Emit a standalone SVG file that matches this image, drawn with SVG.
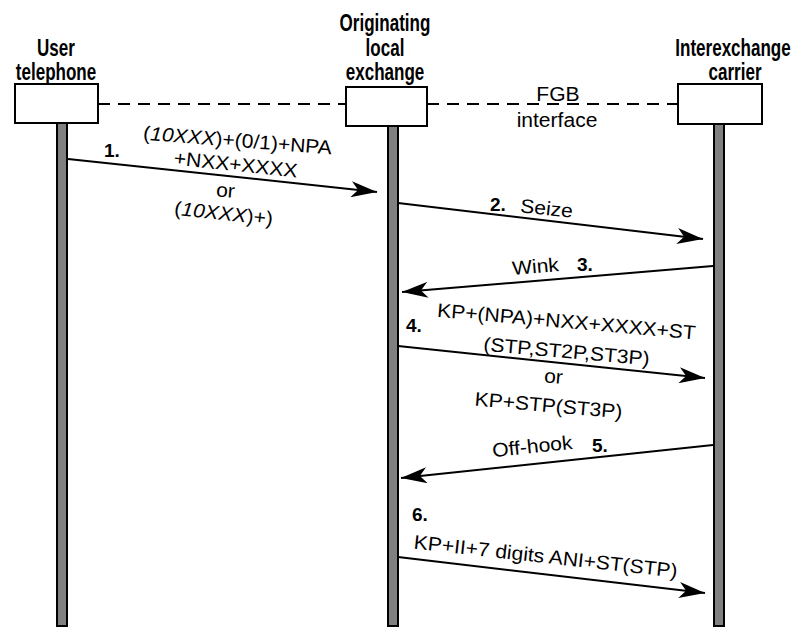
<svg xmlns="http://www.w3.org/2000/svg" width="793" height="628" viewBox="0 0 793 628">
<style>
.hdr{font-family:"Liberation Sans",Arial,sans-serif;font-weight:bold;font-size:24px;fill:#000;text-anchor:middle}
.lbl{font-family:"Liberation Sans",Arial,sans-serif;font-size:19.5px;fill:#000;text-anchor:middle}
.num{font-family:"Liberation Sans",Arial,sans-serif;font-weight:bold;font-size:19px;fill:#000}
.box{fill:#fff;stroke:#000;stroke-width:2}
.life{fill:#808080;stroke:#000;stroke-width:2}
.msg{stroke:#000;stroke-width:2;fill:none;marker-end:url(#ah)}
.dash{stroke:#000;stroke-width:2;stroke-dasharray:12 8;fill:none}
</style>
<defs>
<marker id="ah" viewBox="0 0 26 16" refX="26" refY="8" markerWidth="26" markerHeight="16" markerUnits="userSpaceOnUse" orient="auto">
<path d="M0,0 L26,8 L0,16 L7,8 Z" fill="#000"/>
</marker>
</defs>
<g id="user">
<text class="hdr" transform="translate(56,56) scale(0.71,1)">User</text>
<text class="hdr" transform="translate(56,80) scale(0.71,1)">telephone</text>
<rect class="life" x="57" y="123" width="10" height="503"/>
<rect class="box" x="15" y="84" width="83" height="39"/>
</g>
<g id="local">
<text class="hdr" transform="translate(385,31) scale(0.71,1)">Originating</text>
<text class="hdr" transform="translate(385,56) scale(0.71,1)">local</text>
<text class="hdr" transform="translate(385,80) scale(0.71,1)">exchange</text>
<rect class="life" x="388" y="126" width="10" height="500"/>
<rect class="box" x="346" y="87" width="81" height="39"/>
</g>
<g id="ixc">
<text class="hdr" transform="translate(733,56) scale(0.71,1)">Interexchange</text>
<text class="hdr" transform="translate(735,80) scale(0.71,1)">carrier</text>
<rect class="life" x="714" y="124" width="10" height="502"/>
<rect class="box" x="678" y="84" width="84" height="40"/>
</g>
<g id="connectors">
<line class="dash" x1="98" y1="104" x2="346" y2="104"/>
<line class="dash" x1="427" y1="104" x2="678" y2="104"/>
<line class="msg" x1="68" y1="159" x2="377" y2="192"/>
<line class="msg" x1="398" y1="203" x2="703" y2="239"/>
<line class="msg" x1="713" y1="266" x2="402" y2="292"/>
<line class="msg" x1="398" y1="346" x2="705" y2="378"/>
<line class="msg" x1="713" y1="445" x2="401" y2="478"/>
<line class="msg" x1="398" y1="557" x2="705" y2="593"/>
</g>
<g id="labels">
<text class="lbl" transform="translate(558,101) scale(1.08,1)">FGB</text>
<text class="lbl" transform="translate(557,127) scale(1.08,1)">interface</text>
<text class="num" x="104" y="157">1.</text>
<text class="lbl" transform="translate(237,147) rotate(4.5) scale(1.08,1)">(<tspan font-style="italic">10XXX</tspan>)+(0/1)+NPA</text>
<text class="lbl" transform="translate(235,171) rotate(6) scale(1.08,1)">+NXX+XXXX</text>
<text class="lbl" transform="translate(225,197) rotate(5) scale(1.08,1)">or</text>
<text class="lbl" transform="translate(223,220) rotate(6) scale(1.08,1)">(<tspan font-style="italic">10XXX</tspan>)+)</text>
<text class="num" x="490" y="211">2.</text>
<text class="lbl" transform="translate(546,215) rotate(6) scale(1.08,1)">Seize</text>
<text class="lbl" transform="translate(536,273) rotate(-5) scale(1.08,1)">Wink</text>
<text class="num" x="577" y="271">3.</text>
<text class="num" x="406" y="332">4.</text>
<text class="lbl" transform="translate(566,328) rotate(5) scale(1.08,1)">KP+(NPA)+NXX+XXXX+ST</text>
<text class="lbl" transform="translate(566,358) rotate(5) scale(1.08,1)">(STP,ST2P,ST3P)</text>
<text class="lbl" transform="translate(553,383) rotate(5) scale(1.08,1)">or</text>
<text class="lbl" transform="translate(548,412) rotate(5) scale(1.08,1)">KP+STP(ST3P)</text>
<text class="lbl" transform="translate(533,453) rotate(-6) scale(1.08,1)">Off-hook</text>
<text class="num" x="592" y="452">5.</text>
<text class="num" x="412" y="521">6.</text>
<text class="lbl" transform="translate(545,563) rotate(6.3) scale(1.08,1)">KP+II+7 digits ANI+ST(STP)</text>
</g>
</svg>
